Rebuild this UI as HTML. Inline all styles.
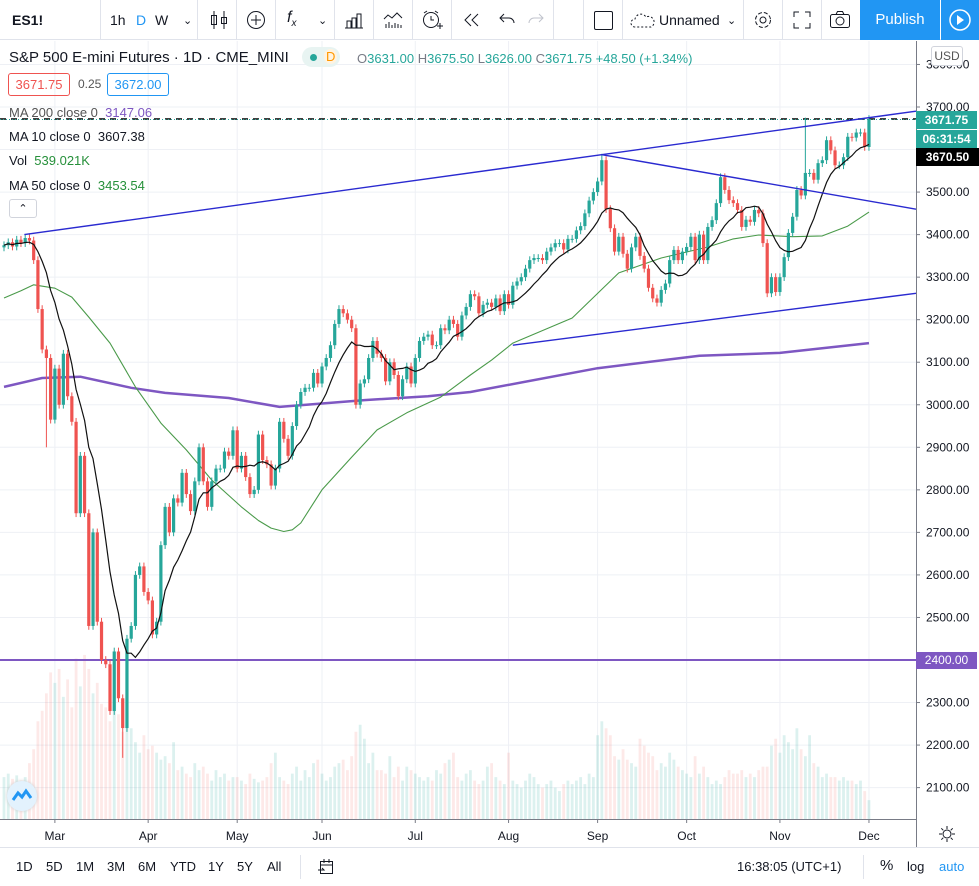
<!DOCTYPE html>
<html><head><meta charset="utf-8">
<style>
*{margin:0;padding:0;box-sizing:border-box}
body{width:979px;height:886px;overflow:hidden;background:#fff;font-family:"Liberation Sans",sans-serif;color:#131722;position:relative}
.abs{position:absolute}
.tb{position:absolute;top:0;left:0;width:979px;height:40px;border-bottom:1px solid #e0e3eb;background:#fff}
.sep{position:absolute;top:0;width:1px;height:40px;background:#e0e3eb}
.ti{position:absolute;top:12px;font-size:14px;color:#131722}
.leg{position:absolute;left:9px;font-size:13px;color:#131722;white-space:nowrap}
.bt{position:absolute;top:859px;font-size:13px;color:#131722}
</style></head><body>
<div class="tb">
  <div class="ti" style="left:12px;font-weight:bold">ES1!</div>
  <div class="sep" style="left:100px"></div>
  <div class="ti" style="left:110px">1h</div>
  <div class="ti" style="left:136px;color:#2196f3">D</div>
  <div class="ti" style="left:155px">W</div>
  <div class="ti" style="left:183px;font-size:11px;top:14px">&#8964;</div>
  <div class="sep" style="left:197px"></div>
  <svg class="abs" style="left:208px;top:8px" width="22" height="24"><path d="M6 3v18M16 3v18" stroke="#131722"/><rect x="3.5" y="7.5" width="5" height="9" fill="none" stroke="#131722"/><rect x="13.5" y="9.5" width="5" height="6" fill="none" stroke="#131722"/></svg>
  <div class="sep" style="left:236px"></div>
  <svg class="abs" style="left:245px;top:9px" width="22" height="22"><circle cx="11" cy="11" r="8.5" fill="none" stroke="#131722"/><path d="M11 6v10M6 11h10" stroke="#131722"/></svg>
  <div class="sep" style="left:275px"></div>
  <div class="ti" style="left:287px;font-style:italic;font-size:16px;top:9px">f<sub style="font-size:10px">x</sub></div>
  <div class="ti" style="left:318px;font-size:11px;top:14px">&#8964;</div>
  <div class="sep" style="left:334px"></div>
  <svg class="abs" style="left:343px;top:9px" width="22" height="22"><path d="M2 19h18M4 19v-7h4v7M9 19V9h4v10M14 19V5h4v14" fill="none" stroke="#131722"/></svg>
  <div class="sep" style="left:373px"></div>
  <svg class="abs" style="left:382px;top:9px" width="22" height="22"><path d="M2 10l4-4 4 3 5-5 5 5M4 19v-4M7 19v-6M10 19v-3M13 19v-5M16 19v-4M19 19v-3" fill="none" stroke="#131722"/></svg>
  <div class="sep" style="left:412px"></div>
  <svg class="abs" style="left:420px;top:8px" width="24" height="24"><circle cx="11" cy="12" r="7.5" fill="none" stroke="#131722"/><path d="M11 8v4h3M4 5l3-2M18 5l-3-2M17 18h6M20 15v6" fill="none" stroke="#131722"/></svg>
  <div class="sep" style="left:451px"></div>
  <svg class="abs" style="left:462px;top:11px" width="20" height="18"><path d="M9 3L3 9l6 6M16 3l-6 6 6 6" fill="none" stroke="#131722"/></svg>
  <svg class="abs" style="left:498px;top:11px" width="18" height="18"><path d="M6 3L2 7l4 4M2 7h9a5 5 0 0 1 5 5" fill="none" stroke="#131722"/></svg>
  <svg class="abs" style="left:527px;top:11px" width="18" height="18"><path d="M12 3l4 4-4 4M16 7H7a5 5 0 0 0-5 5" fill="none" stroke="#c0c3cc"/></svg>
  <div class="sep" style="left:553px"></div><div class="sep" style="left:583px"></div>
  <div class="abs" style="left:594px;top:11px;width:19px;height:19px;border:1px solid #131722;border-radius:2px"></div>
  <div class="sep" style="left:622px"></div>
  <svg class="abs" style="left:630px;top:12px" width="26" height="16"><path d="M5 15a4 4 0 0 1 0-8 6 6 0 0 1 11-2 5 5 0 0 1 5 10z" fill="none" stroke="#131722" stroke-dasharray="2 2"/></svg>
  <div class="ti" style="left:659px">Unnamed</div>
  <div class="ti" style="left:727px;font-size:11px;top:14px">&#8964;</div>
  <div class="sep" style="left:743px"></div>
  <svg class="abs" style="left:752px;top:9px" width="22" height="22"><circle cx="11" cy="11" r="3" fill="none" stroke="#131722"/><circle cx="11" cy="11" r="7.5" fill="none" stroke="#131722" stroke-dasharray="4 2"/></svg>
  <div class="sep" style="left:782px"></div>
  <svg class="abs" style="left:792px;top:10px" width="20" height="20"><path d="M2 7V2h5M13 2h5v5M18 13v5h-5M7 18H2v-5" fill="none" stroke="#131722"/></svg>
  <div class="sep" style="left:821px"></div>
  <svg class="abs" style="left:829px;top:10px" width="22" height="20"><rect x="1.5" y="4.5" width="19" height="13" rx="2" fill="none" stroke="#131722"/><circle cx="11" cy="11" r="4" fill="none" stroke="#131722"/><path d="M7 4.5l1.5-3h5l1.5 3" fill="none" stroke="#131722"/></svg>
  <div class="abs" style="left:860px;top:0;width:80px;height:40px;background:#2196f3;color:#fff;font-size:15px;line-height:40px;text-align:center">Publish</div>
  <div class="abs" style="left:941px;top:0;width:38px;height:40px;background:#2196f3">
    <svg width="38" height="40"><circle cx="19" cy="20" r="10" fill="none" stroke="#fff" stroke-width="1.5"/><path d="M16 15l7 5-7 5z" fill="#fff"/></svg>
  </div>
</div>

<svg id="chart" class="abs" style="left:0;top:41px" width="979" height="806" viewBox="0 41 979 806"></svg>

<div class="leg" style="top:49px;font-size:15px;color:#131722">S&amp;P 500 E-mini Futures · 1D · CME_MINI</div>
<div class="abs" style="left:302px;top:47px;width:38px;height:20px;border-radius:10px;background:#e8f4f2"><span style="position:absolute;left:8px;top:7px;width:7px;height:7px;border-radius:4px;background:#26a69a"></span><span style="position:absolute;left:22px;top:2px;font-size:13px;color:#ff9800;background:#fff3e0;border-radius:8px;padding:0 2px">D</span></div>
<div class="leg" style="left:357px;top:51px;font-size:13px;color:#26a69a"><span style="color:#787b86">O</span>3631.00 <span style="color:#787b86">H</span>3675.50 <span style="color:#787b86">L</span>3626.00 <span style="color:#787b86">C</span>3671.75 +48.50 (+1.34%)</div>
<div class="abs" style="left:8px;top:73px;width:62px;height:23px;border:1px solid #ef5350;border-radius:3px;color:#ef5350;font-size:13px;text-align:center;line-height:21px">3671.75</div>
<div class="leg" style="left:78px;top:77px;font-size:12px;color:#555">0.25</div>
<div class="abs" style="left:107px;top:73px;width:62px;height:23px;border:1px solid #2196f3;border-radius:3px;color:#2196f3;font-size:13px;text-align:center;line-height:21px">3672.00</div>
<div class="leg" style="top:105px;color:#555">MA 200 close 0 <span style="color:#7e57c2">&nbsp;3147.06</span></div>
<div class="leg" style="top:129px">MA 10 close 0 &nbsp;3607.38</div>
<div class="leg" style="top:153px">Vol &nbsp;<span style="color:#26903a">539.021K</span></div>
<div class="leg" style="top:178px">MA 50 close 0 &nbsp;<span style="color:#26903a">3453.54</span></div>
<div class="abs" style="left:9px;top:199px;width:28px;height:19px;border:1px solid #d1d4dc;border-radius:3px;font-size:11px;text-align:center;line-height:19px">&#8963;</div>

<div class="abs" style="left:931px;top:46px;width:32px;height:20px;border:1px solid #d1d4dc;border-radius:3px;background:#fff;font-size:12px;text-align:center;line-height:18px;color:#555">USD</div>
<div class="abs" style="left:916px;top:111px;width:61px;height:18px;background:#26a69a;color:#fff;font-size:12px;font-weight:bold;text-align:center;line-height:18px">3671.75</div>
<div class="abs" style="left:916px;top:130px;width:61px;height:18px;background:#26a69a;color:#fff;font-size:12px;font-weight:bold;text-align:center;line-height:18px">06:31:54</div>
<div class="abs" style="left:916px;top:148px;width:63px;height:18px;background:#000;color:#fff;font-size:12px;font-weight:bold;text-align:center;line-height:18px">3670.50</div>
<div class="abs" style="left:916px;top:652px;width:61px;height:17px;background:#7e57c2;color:#fff;font-size:12px;text-align:center;line-height:17px">2400.00</div>
<div class="abs" style="left:7px;top:781px;width:30px;height:30px;border-radius:15px;background:#e3f2fd;box-shadow:0 0 3px #ccc"><svg width="30" height="30"><path d="M6 19l5-7 4 4 4-6 5 7" fill="none" stroke="#2196f3" stroke-width="3"/></svg></div>
<svg class="abs" style="left:938px;top:825px" width="18" height="18"><circle cx="9" cy="9" r="4" fill="none" stroke="#131722"/><path d="M9 1v3M9 14v3M1 9h3M14 9h3M3.3 3.3l2 2M12.7 12.7l2 2M3.3 14.7l2-2M12.7 5.3l2-2" stroke="#131722"/></svg>

<div class="abs" style="left:0;top:847px;width:979px;height:1px;background:#e0e3eb"></div>
<div class="bt" style="left:16px">1D</div>
<div class="bt" style="left:46px">5D</div>
<div class="bt" style="left:76px">1M</div>
<div class="bt" style="left:107px">3M</div>
<div class="bt" style="left:138px">6M</div>
<div class="bt" style="left:170px">YTD</div>
<div class="bt" style="left:208px">1Y</div>
<div class="bt" style="left:237px">5Y</div>
<div class="bt" style="left:267px">All</div>
<div class="abs" style="left:300px;top:855px;width:1px;height:24px;background:#e0e3eb"></div>
<svg class="abs" style="left:317px;top:858px" width="18" height="18"><rect x="3.5" y="3.5" width="12" height="12" fill="none" stroke="#131722"/><path d="M3 7h13M7 1v4M12 1v4M1 12h6l-2-2" fill="none" stroke="#131722"/></svg>
<div class="bt" style="left:737px">16:38:05 (UTC+1)</div>
<div class="abs" style="left:863px;top:855px;width:1px;height:24px;background:#e0e3eb"></div>
<div class="bt" style="left:880px;font-size:15px;top:857px">%</div>
<div class="bt" style="left:907px">log</div>
<div class="bt" style="left:939px;color:#2196f3">auto</div>

<script>
const closes = [3375,3382,3372,3388,3380,3392,3386,3340,3225,3130,3110,2965,
3085,3000,3120,3020,2960,2745,2880,2745,2480,2700,2490,2400,2390,2280,2420,2310,2240,2450,2480,2600,2620,2560,
2540,2460,2490,2670,2760,2700,2780,2770,2840,2790,2750,2820,2900,2820,2760,2820,2850,2850,2890,2880,2940,
2850,2880,2830,2790,2800,2930,2870,2860,2810,2850,2960,2920,2880,2950,3000,3030,3040,3040,3075,3050,
3090,3110,3140,3190,3225,3215,3200,3180,3000,3050,3060,3110,3150,3120,3110,3055,3100,3070,3020,3060,3090,3050,
3110,3150,3160,3165,3140,3140,3180,3175,3200,3190,3160,3210,3230,3260,3255,3215,3235,3240,3230,3250,3220,3260,
3235,3280,3290,3300,3320,3340,3345,3345,3340,3360,3370,3380,3380,3365,3390,3390,3410,3420,3450,3480,3500,
3525,3575,3460,3415,3360,3395,3355,3320,3370,3395,3350,3320,3275,3250,3240,3270,3285,3340,3364,3340,3360,
3371,3395,3340,3400,3340,3418,3434,3474,3535,3505,3481,3474,3458,3418,3435,3430,3458,3450,3380,3262,3300,3265,
3300,3347,3404,3442,3505,3492,3545,3545,3529,3568,3575,3622,3598,3563,3563,3582,3630,3628,3640,3640,3606,
3671.75];
const firstOpen = 3370;
const spikeHighIdx = [189, 141];
const spikeHighVal = [3675, 3590];
const spikeLowIdx = [28, 10];
const spikeLowVal = [2170, 2900];
const volumes = [1200,1300,1150,1250,1100,1200,1600,2000,2800,3100,3600,4200,
3900,4300,3500,4000,3200,4600,3800,4700,4300,3600,3900,3300,3200,2800,3400,3000,2500,3100,2600,2200,1900,2400,
2000,2100,1900,1700,1800,1600,2200,1400,1500,1300,1200,1600,1400,1500,1300,1100,1400,1200,1300,1100,1200,
1200,1100,1000,1300,1150,1050,1100,1200,1600,1900,1200,1100,1000,1300,1500,1100,1400,1200,1600,1700,
1300,1100,1200,1500,1600,1700,1400,1800,2500,2700,2300,1600,1900,1400,1400,1300,1800,1200,1500,1100,1500,1400,
1300,1200,1100,1200,1100,1400,1300,1600,1700,1900,1200,1100,1300,1400,1100,1000,1100,1500,1600,1200,1100,1000,
1900,1100,1000,900,1100,1300,1200,1000,900,1000,1100,900,800,1000,1100,1000,1100,1200,1000,1300,1200,
2400,2800,2600,2400,1800,1700,2000,1700,1600,1500,2300,2100,1900,1800,1400,1600,1500,1900,1700,1500,1400,
1300,1200,1800,1300,1500,1200,1000,1100,1000,1200,1400,1300,1300,1400,1200,1300,1200,1400,1500,1500,2100,2300,
1900,2400,2200,2000,2600,2000,1800,2400,1600,1500,1200,1300,1200,1200,1100,1200,1100,1100,1000,1100,800,
540];
const ma50Idx = [0,4,7,12,16,20,25,31,37,43,49,56,60,63,66,68,70,75,82,88,95,103,110,115,120,134,145,155,166,172,178,186,193,199,204];
const ma50Val = [3251,3268,3282,3274,3253,3206,3145,3042,2957,2894,2823,2760,2728,2710,2702,2706,2722,2800,2877,2941,2981,3018,3070,3105,3145,3204,3310,3345,3371,3390,3399,3395,3397,3420,3453];
const ma200Idx = [0,9,18,30,38,53,65,85,100,110,140,164,183,204];
const ma200Val = [3042,3063,3066,3040,3028,3016,2995,3011,3020,3030,3086,3115,3122,3145];
const priceTicks = [3800,3700,3600,3500,3400,3300,3200,3100,3000,2900,2800,2700,2600,2500,2400,2300,2200,2100];
const monthLabels = ["Mar","Apr","May","Jun","Jul","Aug","Sep","Oct","Nov","Dec"];
const monthIdx = [12,34,55,75,97,119,140,161,183,204];
const trendA = [[4.8,3400],[141,3588]];
const trendB = [[141,3588],[215,3460]];
const trendC = [[120,3140],[215,3262]];
const hLevel = 2400;
const lastPrice = 3671.75;

const X0 = 4, DX = 4.24, PY = 107, PK = 0.42538, BASE = 819, VK = 0.0349;
const xOf = i => X0 + i * DX;
const yOf = p => PY + (3700 - p) * PK;
const vOf = v => BASE - v * VK;
const svg = document.getElementById('chart');
const NS = 'http://www.w3.org/2000/svg';
function mk(tag, attrs, parent){const e=document.createElementNS(NS,tag);for(const k in attrs)e.setAttribute(k,attrs[k]);(parent||svg).appendChild(e);return e;}

const grid = mk('g',{});


priceTicks.forEach(p=>{const y=yOf(p);if(y<41||y>BASE)return;mk('line',{x1:0,x2:916,y1:y,y2:y,stroke:'#eef0f5'},grid);});
monthIdx.forEach(i=>{const x=xOf(i);mk('line',{x1:x,x2:x,y1:41,y2:BASE,stroke:'#eef0f5'},grid);});

const vg = mk('g',{});


const n = Math.min(closes.length, volumes.length);
for(let i=0;i<n;i++){
  const o = i===0?firstOpen:closes[i-1], c = closes[i];
  const y = vOf(volumes[i]);
  const r = mk('rect',{x:xOf(i)-1.4,y:y,width:2.8,height:BASE-y,fill:c>=o?'rgba(38,166,154,0.16)':'rgba(239,83,80,0.13)'},vg);
  
  
}

function polyFrom(idx, vals, color, w, name){
  const pts = idx.map((i,k)=>[i,vals[k]]).sort((a,b)=>a[0]-b[0]).map(d=>xOf(d[0]).toFixed(1)+','+yOf(d[1]).toFixed(1)).join(' ');
  const pl = mk('polyline',{points:pts,fill:'none',stroke:color,'stroke-width':w,'stroke-linejoin':'round'});
  
  
}
polyFrom(ma200Idx, ma200Val, '#7e57c2', 2.5, 'ma200-line');
polyFrom(ma50Idx, ma50Val, '#4a9a4a', 1.1, 'ma50-line');

const hl = mk('line',{x1:0,x2:916,y1:yOf(hLevel),y2:yOf(hLevel),stroke:'#7e57c2','stroke-width':2});



const lp1 = mk('line',{x1:0,x2:916,y1:yOf(lastPrice),y2:yOf(lastPrice),stroke:'#000','stroke-width':1.5,'stroke-dasharray':'6 5'});


const lp2 = mk('line',{x1:0,x2:916,y1:yOf(lastPrice)+0.5,y2:yOf(lastPrice)+0.5,stroke:'#26a69a','stroke-width':1,'stroke-dasharray':'1 2'});



const cg = mk('g',{});


for(let i=0;i<closes.length;i++){
  const o = i===0?firstOpen:closes[i-1], c = closes[i];
  let hi = Math.max(o,c)+9, lo = Math.min(o,c)-9;
  const sh = spikeHighIdx.indexOf(i); if(sh>=0) hi = spikeHighVal[sh];
  const sl = spikeLowIdx.indexOf(i); if(sl>=0) lo = spikeLowVal[sl];
  const col = c>=o?'#26a69a':'#ef5350';
  const x = xOf(i);
  const g = mk('g',{},cg);
  
  
  mk('line',{x1:x,x2:x,y1:yOf(hi),y2:yOf(lo),stroke:col,'stroke-width':1},g);
  const yt = yOf(Math.max(o,c)), yb = yOf(Math.min(o,c));
  mk('rect',{x:x-1.6,y:yt,width:3.2,height:Math.max(1,yb-yt),fill:col},g);
}

const ma10 = closes.map((c,i)=>{const s=closes.slice(Math.max(0,i-9),i+1);return s.reduce((a,b)=>a+b,0)/s.length;});
const m10 = mk('polyline',{points:ma10.map((v,i)=>xOf(i).toFixed(1)+','+yOf(v).toFixed(1)).join(' '),fill:'none',stroke:'#111','stroke-width':1.2});



function trend(seg, name, extend){
  const [a,b] = seg;
  let x1=xOf(a[0]),y1=yOf(a[1]),x2=xOf(b[0]),y2=yOf(b[1]);
  if(extend){const s=(y2-y1)/(x2-x1);y2=y1+s*(916-x1);x2=916;}
  const l = mk('line',{x1:x1,y1:y1,x2:x2,y2:y2,stroke:'#2a2ad0','stroke-width':1.4});
  
  
}
trend(trendA,'upper-trendline',true);
trend(trendB,'descending-trendline',true);
trend(trendC,'lower-trendline',true);

const ax = mk('line',{x1:916.5,x2:916.5,y1:41,y2:847,stroke:'#787b86'});


const bx = mk('line',{x1:0,x2:916,y1:BASE+0.5,y2:BASE+0.5,stroke:'#787b86'});


priceTicks.forEach(p=>{
  const y=yOf(p); if(y<50||y>BASE-5)return;
  mk('line',{x1:916,x2:920,y1:y,y2:y,stroke:'#787b86'});
  const t=mk('text',{x:926,y:y+4,'font-size':12,fill:'#131722','font-family':'Liberation Sans, sans-serif'});
  t.textContent=p.toFixed(2);
  
  
});
monthLabels.forEach((m,k)=>{
  const x=xOf(monthIdx[k]);
  mk('line',{x1:x,x2:x,y1:BASE,y2:BASE+4,stroke:'#787b86'});
  const t=mk('text',{x:x,y:840,'font-size':12,fill:'#131722','text-anchor':'middle','font-family':'Liberation Sans, sans-serif'});
  t.textContent=m;
  
  
});
</script>
</body></html>
